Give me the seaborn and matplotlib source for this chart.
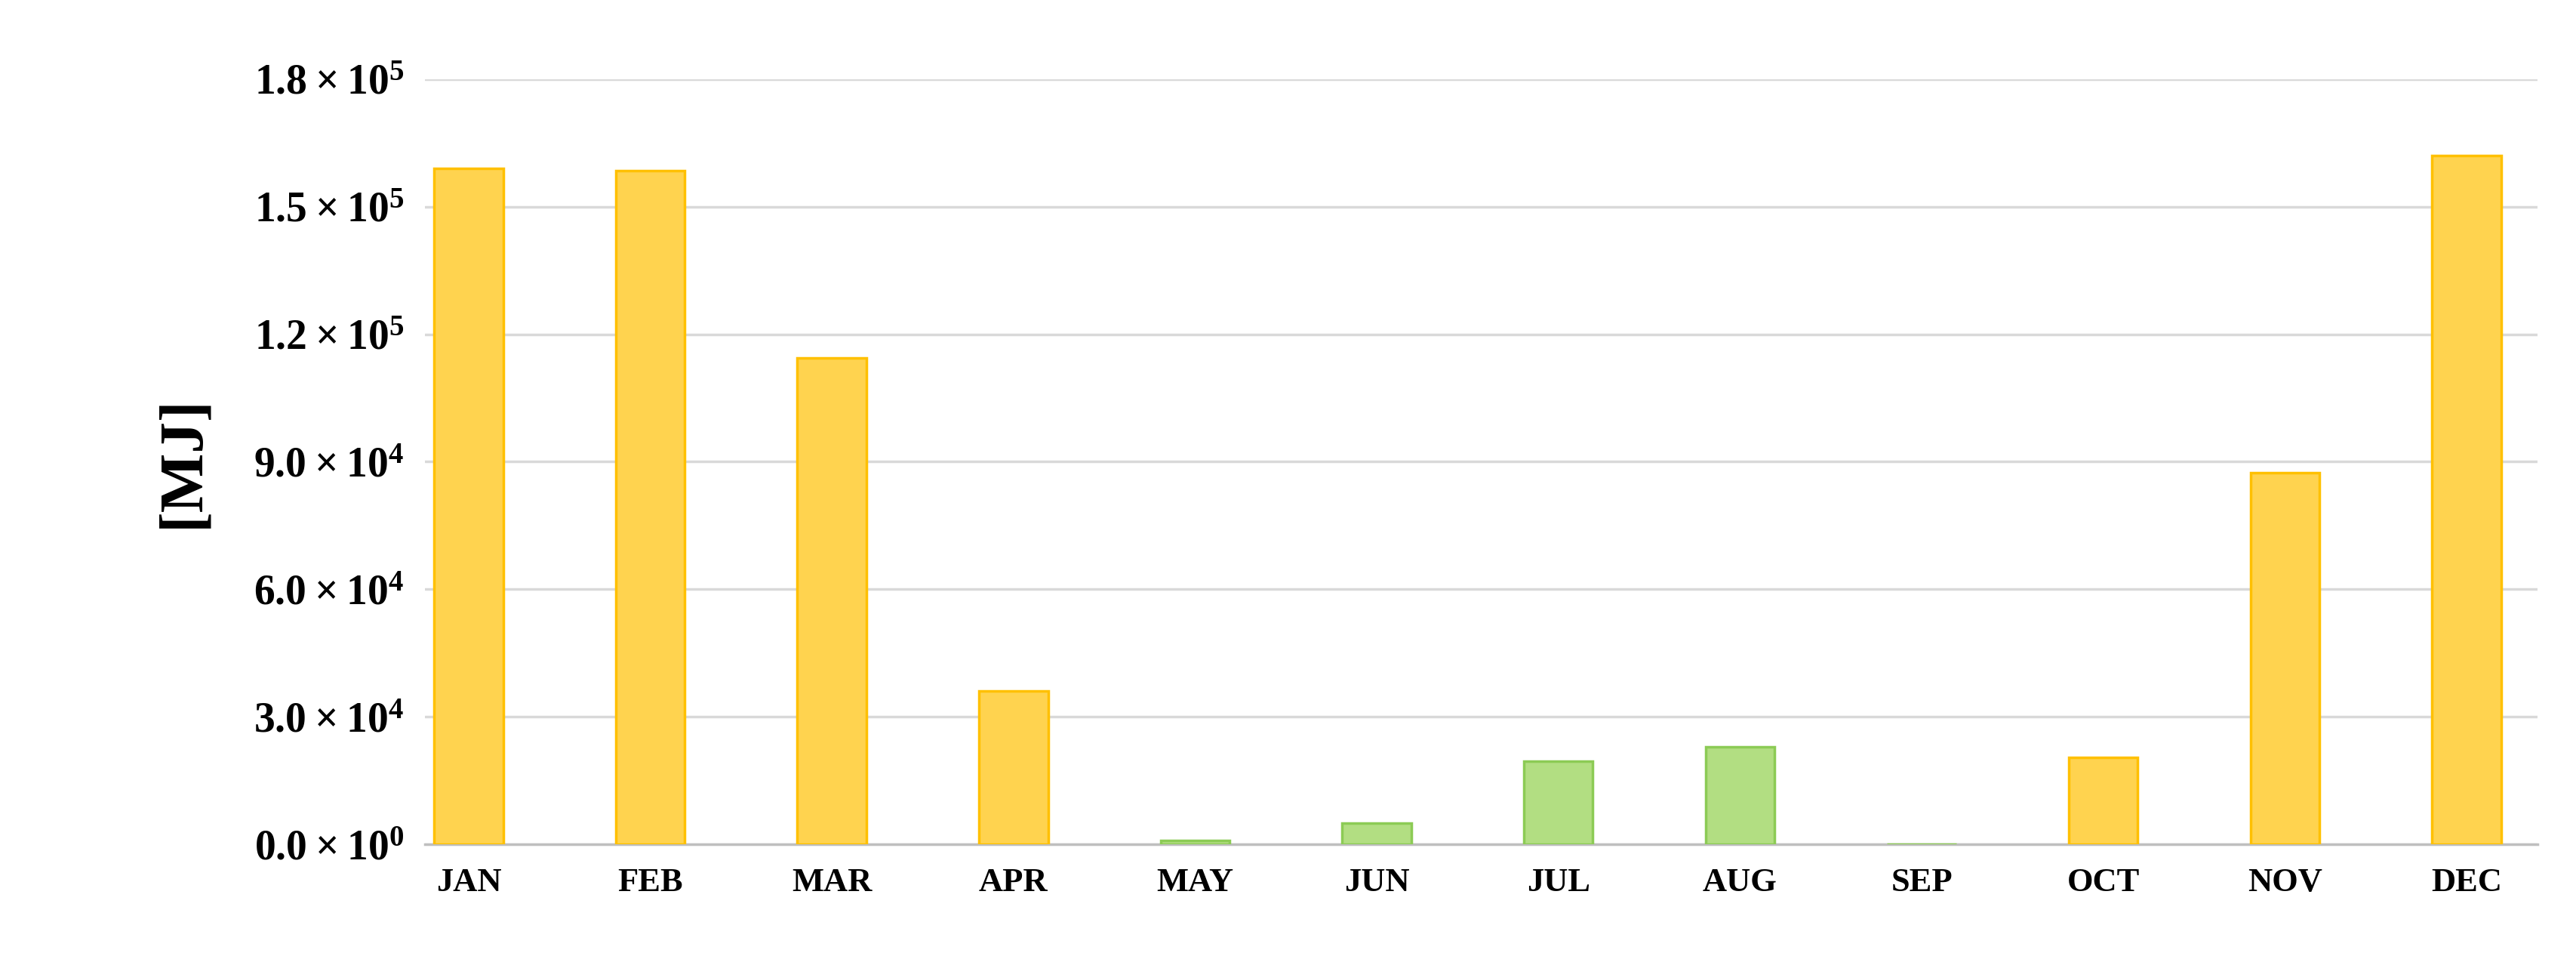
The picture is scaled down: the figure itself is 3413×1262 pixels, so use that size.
import matplotlib
matplotlib.use("Agg")
import matplotlib.pyplot as plt
import seaborn as sns
import pandas as pd

months = ["JAN","FEB","MAR","APR","MAY","JUN","JUL","AUG","SEP","OCT","NOV","DEC"]
values = [159000,158500,114500,36000,1000,5000,19500,23000,0,20500,87500,162000]
season = ["heat","heat","heat","heat","cool","cool","cool","cool","cool","heat","heat","heat"]
yticks = [0,30000,60000,90000,120000,150000,180000]
ytick_labels = [r"$\mathbf{0.0\times10^{0}}$", r"$\mathbf{3.0\times10^{4}}$", r"$\mathbf{6.0\times10^{4}}$",
                r"$\mathbf{9.0\times10^{4}}$", r"$\mathbf{1.2\times10^{5}}$", r"$\mathbf{1.5\times10^{5}}$",
                r"$\mathbf{1.8\times10^{5}}$"]

sns.set_style("white")
plt.rcParams['font.family'] = ['Liberation Serif', 'DejaVu Serif']
plt.rcParams['mathtext.fontset'] = 'custom'
plt.rcParams['mathtext.rm'] = 'Liberation Serif'
plt.rcParams['mathtext.bf'] = 'Liberation Serif:bold'
plt.rcParams['text.color'] = 'black'
plt.rcParams['xtick.color'] = 'black'
plt.rcParams['ytick.color'] = 'black'
plt.rcParams['axes.labelcolor'] = 'black'

df = pd.DataFrame({"month": months, "value": values, "season": season})
fill = {"heat": "#FFD34F", "cool": "#B2DE82"}
edge = {"heat": "#FFC000", "cool": "#8CCB55"}

fig = plt.figure(figsize=(34.13, 12.62), dpi=100)
ax = fig.add_axes([0.165, 0.114, 0.82, 0.803])
sns.barplot(data=df, x="month", y="value", hue="season", palette=fill, dodge=False,
            width=0.38, legend=False, ax=ax, zorder=3, saturation=1)
for cont, key in zip(ax.containers, df["season"].unique()):
    for p in cont:
        p.set_edgecolor(edge[key]); p.set_linewidth(2.5)

ax.set_ylim(0, 180000)
ax.set_xlim(-0.24, 11.39)
ax.set_yticks(yticks)
ax.set_yticklabels(ytick_labels, fontsize=40)
ax.tick_params(axis='x', labelsize=32, length=0, pad=22)
ax.tick_params(axis='y', length=0, pad=20)
for l in ax.get_xticklabels():
    l.set_fontweight('bold')
ax.yaxis.grid(True, color="#D9D9D9", linewidth=2.5, zorder=0)
ax.set_axisbelow(True)
for s in ["top", "right", "left"]:
    ax.spines[s].set_visible(False)
ax.spines["bottom"].set_color("#BFBFBF")
ax.spines["bottom"].set_linewidth(2.5)
ax.set_xlabel("")
ax.set_ylabel("[MJ]", fontsize=60, fontweight='bold', labelpad=40)
fig.savefig("out.png", dpi=100)
